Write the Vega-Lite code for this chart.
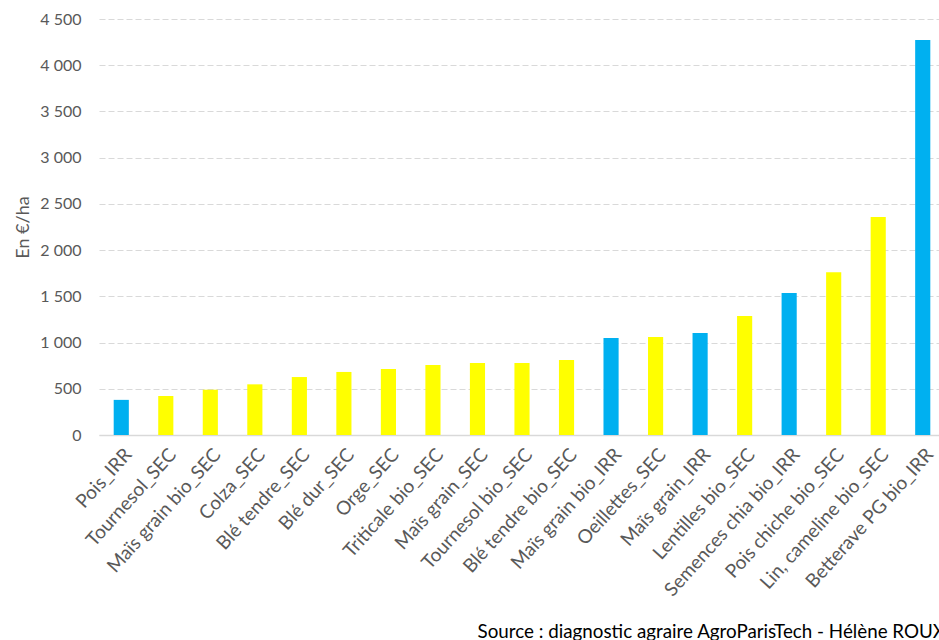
{
  "$schema": "https://vega.github.io/schema/vega-lite/v6.json",
  "autosize": {"type": "none"},
  "padding": {"left": 99, "top": 19, "right": -6, "bottom": 205},
  "width": 846,
  "height": 416,
  "background": "#ffffff",
  "title": {
    "text": "Valeur ajoutée brute des différentes cultures (en €/ha)",
    "anchor": "middle",
    "dx": -60,
    "offset": 16,
    "font": "Lato",
    "fontSize": 17,
    "fontWeight": "bold",
    "color": "#595959"
  },
  "data": {
    "values": [
      {"culture": "Pois_IRR", "conduite": "IRR", "va": 380},
      {"culture": "Tournesol_SEC", "conduite": "SEC", "va": 422},
      {"culture": "Maïs grain bio_SEC", "conduite": "SEC", "va": 490},
      {"culture": "Colza_SEC", "conduite": "SEC", "va": 548},
      {"culture": "Blé tendre_SEC", "conduite": "SEC", "va": 627},
      {"culture": "Blé dur_SEC", "conduite": "SEC", "va": 682},
      {"culture": "Orge_SEC", "conduite": "SEC", "va": 714},
      {"culture": "Triticale bio_SEC", "conduite": "SEC", "va": 757},
      {"culture": "Maïs grain_SEC", "conduite": "SEC", "va": 779},
      {"culture": "Tournesol bio_SEC", "conduite": "SEC", "va": 780},
      {"culture": "Blé tendre bio_SEC", "conduite": "SEC", "va": 811},
      {"culture": "Maïs grain bio_IRR", "conduite": "IRR", "va": 1049},
      {"culture": "Oeillettes_SEC", "conduite": "SEC", "va": 1060},
      {"culture": "Maïs grain_IRR", "conduite": "IRR", "va": 1103},
      {"culture": "Lentilles bio_SEC", "conduite": "SEC", "va": 1287},
      {"culture": "Semences chia bio_IRR", "conduite": "IRR", "va": 1536},
      {"culture": "Pois chiche bio_SEC", "conduite": "SEC", "va": 1760},
      {"culture": "Lin, cameline bio_SEC", "conduite": "SEC", "va": 2358},
      {"culture": "Betterave PG bio_IRR", "conduite": "IRR", "va": 4273}
    ]
  },
  "mark": {"type": "bar"},
  "encoding": {
    "x": {
      "field": "culture",
      "type": "nominal",
      "sort": null,
      "scale": {"paddingInner": 0.66, "paddingOuter": 0.33},
      "axis": {
        "title": "Source : diagnostic agraire AgroParisTech - Hélène ROUX",
        "titleX": 378,
        "titleY": 202,
        "titleAlign": "left",
        "titleAnchor": null,
        "titleBaseline": "alphabetic",
        "titleFont": "Lato",
        "titleFontSize": 18.8,
        "titleFontWeight": "normal",
        "titleColor": "#000000",
        "labelAngle": -48,
        "labelAlign": "right",
        "labelBaseline": "middle",
        "labelFont": "Lato",
        "labelFontSize": 19,
        "labelColor": "#595959",
        "labelPadding": 16,
        "labelOffset": 7,
        "labelLimit": 0,
        "labelOverlap": false,
        "ticks": false,
        "tickSize": 0,
        "domainColor": "#d9d9d9",
        "domainWidth": 1.5,
        "grid": false
      }
    },
    "y": {
      "field": "va",
      "type": "quantitative",
      "scale": {"domain": [0, 4500], "nice": false},
      "axis": {
        "title": "En €/ha",
        "titleX": -76,
        "titleY": 208,
        "titleAngle": -90,
        "titleAlign": "center",
        "titleBaseline": "middle",
        "titleFont": "Lato",
        "titleFontSize": 18,
        "titleFontWeight": "normal",
        "titleColor": "#595959",
        "values": [0, 500, 1000, 1500, 2000, 2500, 3000, 3500, 4000, 4500],
        "labelExpr": "replace(format(datum.value, ','), ',', ' ')",
        "labelFont": "Lato",
        "labelFontSize": 16,
        "labelColor": "#595959",
        "labelPadding": 18,
        "ticks": false,
        "tickSize": 0,
        "domain": false,
        "grid": true,
        "gridColor": "#d9d9d9",
        "gridDash": [6, 3],
        "gridWidth": 1
      }
    },
    "color": {
      "field": "conduite",
      "type": "nominal",
      "scale": {"domain": ["IRR", "SEC"], "range": ["#00B0F0", "#FFFF00"]},
      "legend": null
    }
  },
  "config": {
    "view": {"stroke": null},
    "font": "Lato"
  }
}
